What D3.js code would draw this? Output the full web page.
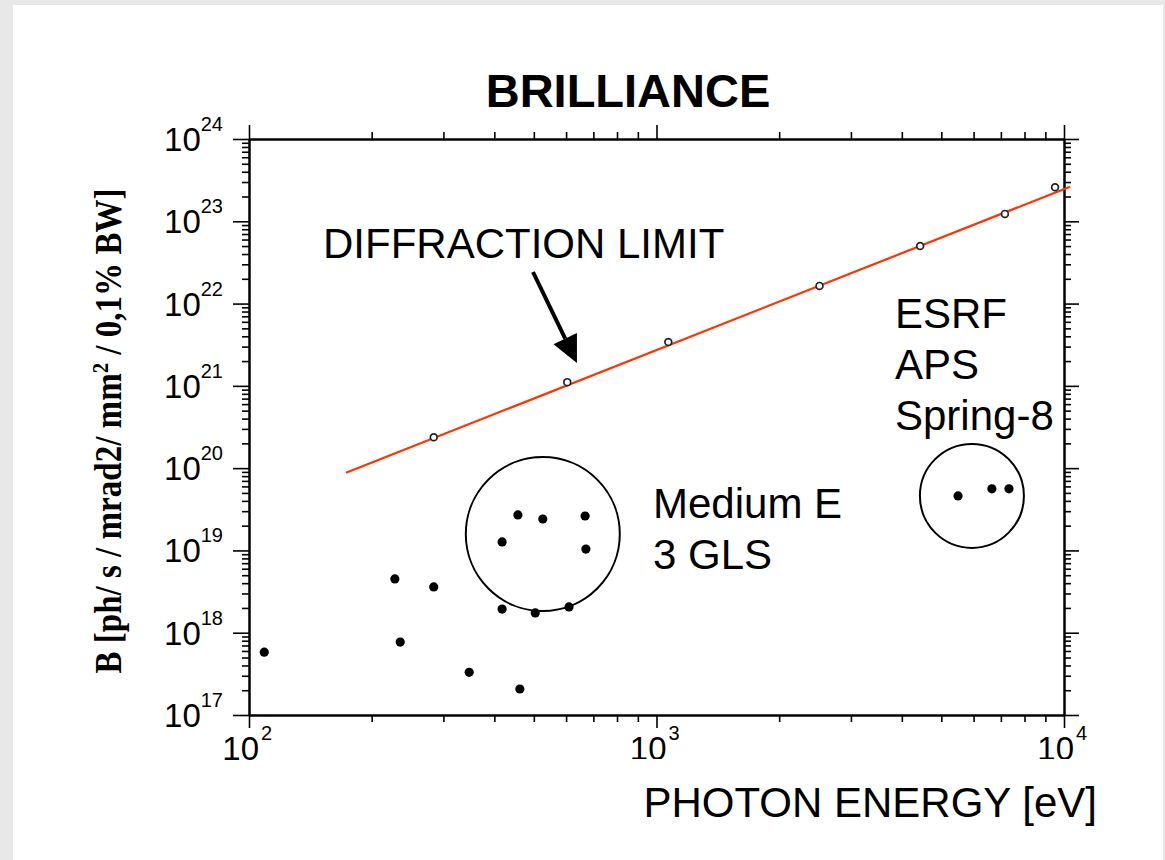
<!DOCTYPE html>
<html>
<head>
<meta charset="utf-8">
<script src="https://cdn.jsdelivr.net/npm/d3@7"></script>
<style>
  html, body { margin: 0; padding: 0; background: #e8e8e8; }
  svg { display: block; }
  text { font-family: "Liberation Sans", Arial, Helvetica, sans-serif; fill: #000; }
  .axis .domain { stroke: #000; stroke-width: 2; }
  .axis .tick line { stroke: #000; stroke-width: 1.6; }
</style>
</head>
<body>
<script>
// values: photon energy [eV] and brilliance
var limitPtE = [284, 604, 1069, 2512, 4436, 7161, 9507];
var limitPtB = [2.37e20, 1.11e21, 3.41e21, 1.64e22, 5.0e22, 1.23e23, 2.59e23];

// red diffraction limit line (ends)
var limitLineE = [173, 10350];
var limitLineB = [8.8e19, 2.63e23];

// existing sources (filled dots)
var srcE = [109, 228, 235, 284, 347, 418, 418, 457, 462, 504, 526, 610, 668, 671, 5495, 6653, 7328];
var srcB = [5.8e17, 4.5e18, 7.7e17, 3.6e18, 3.3e17, 1.27e19, 1.94e18, 2.7e19, 2.07e17,
            1.74e18, 2.41e19, 2.06e18, 2.62e19, 1.04e19, 4.6e19, 5.6e19, 5.6e19];

// circled groups
var groupNames = ["Medium E 3 GLS", "ESRF APS Spring-8"];
var groupE = [526, 5943];
var groupB = [1.58e19, 4.6e19];

// axes
var xTicks = [1e2, 1e3, 1e4];
var xTickExp = ["2", "3", "4"];
var yTicks = [1e17, 1e18, 1e19, 1e20, 1e21, 1e22, 1e23, 1e24];
var yTickExp = ["17", "18", "19", "20", "21", "22", "23", "24"];

var W = 1165, H = 860;
var svg = d3.select("body").append("svg").attr("width", W).attr("height", H);

// white slide on gray page
svg.append("rect").attr("x", 13).attr("y", 5).attr("width", 1150).attr("height", H - 5).attr("fill", "#fff");

var x = d3.scaleLog().domain([1e2, 1e4]).range([249, 1064]);
var y = d3.scaleLog().domain([1e17, 1e24]).range([715, 139]);

function minorTicks(dom) {
    var out = [];
    var lo = Math.round(Math.log10(dom[0])), hi = Math.round(Math.log10(dom[1]));
    for (var e = lo; e < hi; e++) {
        for (var k = 2; k <= 9; k++) out.push(k * Math.pow(10, e));
    }
    return out;
}
var xMinor = minorTicks(x.domain());
var yMinor = minorTicks(y.domain());

function axis(fn, scale, tr, vals, size) {
    svg.append("g").attr("class", "axis").attr("transform", tr)
        .call(fn(scale).tickValues(vals).tickSizeInner(size).tickSizeOuter(0).tickFormat(""));
}
var pL = x.range()[0], pR = x.range()[1], pT = y.range()[1], pB = y.range()[0];
axis(d3.axisLeft, y, "translate(" + pL + ",0)", yMinor, 7);
axis(d3.axisLeft, y, "translate(" + pL + ",0)", yTicks, 16);
axis(d3.axisRight, y, "translate(" + pR + ",0)", yMinor, 7);
axis(d3.axisRight, y, "translate(" + pR + ",0)", yTicks, 15);
axis(d3.axisBottom, x, "translate(0," + pB + ")", xMinor, 7);
axis(d3.axisBottom, x, "translate(0," + pB + ")", xTicks, 13);
axis(d3.axisTop, x, "translate(0," + pT + ")", xMinor, 7);
axis(d3.axisTop, x, "translate(0," + pT + ")", xTicks, 14);

// tick labels 10^n
var yl = svg.selectAll(".ylab").data(yTicks).enter().append("text")
    .attr("class", "ylab")
    .attr("x", 223)
    .attr("y", function(d) { return y(d) + 12; })
    .attr("text-anchor", "end")
    .style("font-size", "33px");
yl.append("tspan").text("10");
yl.append("tspan").attr("dy", -20).style("font-size", "20px")
    .text(function(d, i) { return yTickExp[i]; });

svg.selectAll(".xlab").data(xTicks).enter().append("text")
    .attr("x", function(d) { return x(d) + 10; })
    .attr("y", pB + 45)
    .attr("text-anchor", "end")
    .style("font-size", "33px")
    .text("10");
svg.selectAll(".xsup").data(xTicks).enter().append("text")
    .attr("x", function(d) { return x(d) + 12; })
    .attr("y", pB + 25)
    .style("font-size", "20px")
    .text(function(d, i) { return xTickExp[i]; });

// diffraction limit line
var line = d3.line()
    .x(function(d) { return x(d[0]); })
    .y(function(d) { return y(d[1]); });
svg.append("path")
    .datum(d3.zip(limitLineE, limitLineB))
    .attr("d", line)
    .attr("fill", "none")
    .attr("stroke", "#ff3300")
    .attr("stroke-width", 2.2);

svg.selectAll(".open").data(d3.zip(limitPtE, limitPtB)).enter().append("circle")
    .attr("cx", function(d) { return x(d[0]); })
    .attr("cy", function(d) { return y(d[1]); })
    .attr("r", 3.4)
    .attr("fill", "#fff")
    .attr("stroke", "#222")
    .attr("stroke-width", 1.7);

svg.selectAll(".dot").data(d3.zip(srcE, srcB)).enter().append("circle")
    .attr("cx", function(d) { return x(d[0]); })
    .attr("cy", function(d) { return y(d[1]); })
    .attr("r", 4.6)
    .attr("fill", "#000");

// group circles
var groupR = [77, 52];
svg.selectAll(".grp").data(groupNames).enter().append("circle")
    .attr("cx", function(d, i) { return x(groupE[i]); })
    .attr("cy", function(d, i) { return y(groupB[i]); })
    .attr("r", function(d, i) { return groupR[i]; })
    .attr("fill", "none")
    .attr("stroke", "#000")
    .attr("stroke-width", 2);

// labels
svg.append("text").attr("x", 628).attr("y", 107).attr("text-anchor", "middle")
    .style("font-size", "47px").style("font-weight", "bold").text("BRILLIANCE");

svg.append("text").attr("x", 323).attr("y", 258).style("font-size", "42px").text("DIFFRACTION LIMIT");

// arrow to the limit line
var tip = [x(638), y(1.9e21)], tail = [533, 272];
var dx = tip[0] - tail[0], dy = tip[1] - tail[1], len = Math.sqrt(dx * dx + dy * dy);
var ux = dx / len, uy = dy / len, hl = 27, hw = 13;
var base = [tip[0] - ux * hl, tip[1] - uy * hl];
svg.append("line").attr("x1", tail[0]).attr("y1", tail[1]).attr("x2", base[0]).attr("y2", base[1])
    .attr("stroke", "#000").attr("stroke-width", 4);
svg.append("polygon")
    .attr("points", [tip, [base[0] - uy * hw, base[1] + ux * hw], [base[0] + uy * hw, base[1] - ux * hw]]
        .map(function(p) { return p.join(","); }).join(" "))
    .attr("fill", "#000");

[["ESRF", 328], ["APS", 379], ["Spring-8", 430]].forEach(function(t) {
    svg.append("text").attr("x", 895).attr("y", t[1]).style("font-size", "42px").text(t[0]);
});
[["Medium E", 518], ["3 GLS", 569]].forEach(function(t) {
    svg.append("text").attr("x", 653).attr("y", t[1]).style("font-size", "42px").text(t[0]);
});

// x title box covers the bottom of the tick labels
svg.append("rect").attr("x", 600).attr("y", 759).attr("width", 510).attr("height", 80).attr("fill", "#fff");
svg.append("text").attr("x", 1097).attr("y", 817).attr("text-anchor", "end")
    .style("font-size", "42px").text("PHOTON ENERGY [eV]");

// y title
var yt = svg.append("text")
    .attr("transform", "translate(121,431) rotate(-90)")
    .attr("text-anchor", "middle")
    .attr("textLength", 485)
    .attr("lengthAdjust", "spacingAndGlyphs")
    .style("font-family", "'Liberation Serif', 'Times New Roman', serif")
    .style("font-weight", "bold")
    .style("font-size", "38px");
yt.append("tspan").text("B [ph/ s / mrad2/ mm");
yt.append("tspan").attr("dy", -13).style("font-size", "24px").text("2");
yt.append("tspan").attr("dy", 13).text(" / 0,1% BW]");
</script>
</body>
</html>
